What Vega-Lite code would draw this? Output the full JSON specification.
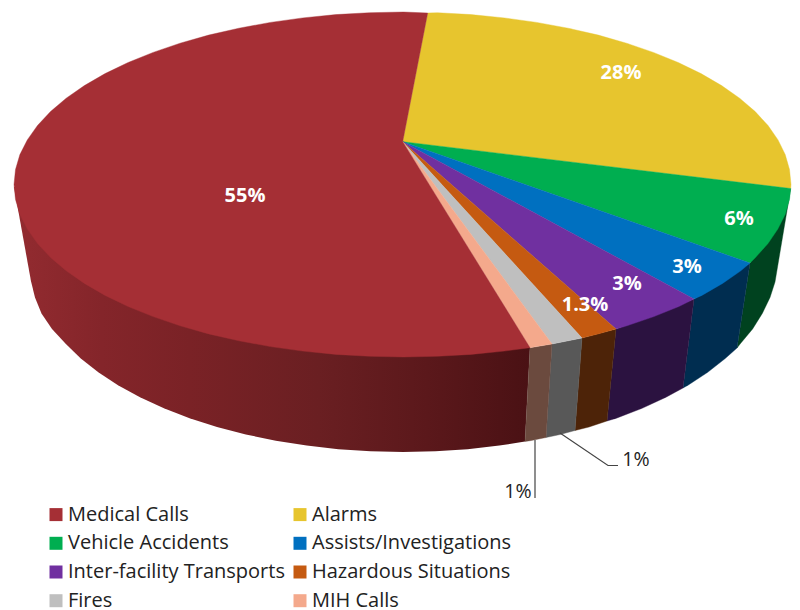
{"$schema":"https://vega.github.io/schema/vega-lite/v6.json","width":800,"height":610,"padding":0,"autosize":"none","background":"white","view":{"stroke":null},
"datasets":{
"top":[
{"s":"Alarms","i":0,"x":402.7,"y":141.7},{"s":"Alarms","i":1,"x":427.7,"y":13},{"s":"Alarms","i":2,"x":437.5,"y":12.7},{"s":"Alarms","i":3,"x":471.1,"y":14.6},{"s":"Alarms","i":4,"x":504.3,"y":17.9},{"s":"Alarms","i":5,"x":536.7,"y":22.4},{"s":"Alarms","i":6,"x":568.1,"y":28.2},{"s":"Alarms","i":7,"x":598.3,"y":35.1},{"s":"Alarms","i":8,"x":626.5,"y":43.2},{"s":"Alarms","i":9,"x":653.4,"y":52.4},{"s":"Alarms","i":10,"x":678.2,"y":62.5},{"s":"Alarms","i":11,"x":701,"y":73.6},{"s":"Alarms","i":12,"x":721.6,"y":85.6},{"s":"Alarms","i":13,"x":739.6,"y":98.2},{"s":"Alarms","i":14,"x":755.2,"y":111.6},{"s":"Alarms","i":15,"x":768,"y":125.5},{"s":"Alarms","i":16,"x":778,"y":139.9},{"s":"Alarms","i":17,"x":785.2,"y":154.6},{"s":"Alarms","i":18,"x":789.5,"y":169.5},{"s":"Alarms","i":19,"x":791,"y":184.5},{"s":"Alarms","i":20,"x":790.7,"y":188.5},{"s":"Alarms","i":21,"x":402.7,"y":141.7},
{"s":"Vehicle Accidents","i":0,"x":402.7,"y":141.7},{"s":"Vehicle Accidents","i":1,"x":790.7,"y":188.5},{"s":"Vehicle Accidents","i":2,"x":789.5,"y":199.5},{"s":"Vehicle Accidents","i":3,"x":785.2,"y":214.4},{"s":"Vehicle Accidents","i":4,"x":777.8,"y":229.1},{"s":"Vehicle Accidents","i":5,"x":768,"y":243.5},{"s":"Vehicle Accidents","i":6,"x":755.5,"y":257.4},{"s":"Vehicle Accidents","i":7,"x":750,"y":263},{"s":"Vehicle Accidents","i":8,"x":402.7,"y":141.7},
{"s":"Assists/Investigations","i":0,"x":402.7,"y":141.7},{"s":"Assists/Investigations","i":1,"x":750,"y":263},{"s":"Assists/Investigations","i":2,"x":740.8,"y":270.8},{"s":"Assists/Investigations","i":3,"x":722.6,"y":283.4},{"s":"Assists/Investigations","i":4,"x":701.9,"y":295.4},{"s":"Assists/Investigations","i":5,"x":694,"y":299},{"s":"Assists/Investigations","i":6,"x":402.7,"y":141.7},
{"s":"Inter-facility Transports","i":0,"x":402.7,"y":141.7},{"s":"Inter-facility Transports","i":1,"x":694,"y":299},{"s":"Inter-facility Transports","i":2,"x":678.9,"y":306.5},{"s":"Inter-facility Transports","i":3,"x":653.9,"y":316.6},{"s":"Inter-facility Transports","i":4,"x":626.9,"y":325.8},{"s":"Inter-facility Transports","i":5,"x":616,"y":329},{"s":"Inter-facility Transports","i":6,"x":402.7,"y":141.7},
{"s":"Hazardous Situations","i":0,"x":402.7,"y":141.7},{"s":"Hazardous Situations","i":1,"x":616,"y":329},{"s":"Hazardous Situations","i":2,"x":598.3,"y":333.9},{"s":"Hazardous Situations","i":3,"x":582,"y":338},{"s":"Hazardous Situations","i":4,"x":402.7,"y":141.7},
{"s":"Fires","i":0,"x":402.7,"y":141.7},{"s":"Fires","i":1,"x":582,"y":338},{"s":"Fires","i":2,"x":568.1,"y":340.8},{"s":"Fires","i":3,"x":552,"y":344},{"s":"Fires","i":4,"x":402.7,"y":141.7},
{"s":"MIH Calls","i":0,"x":402.7,"y":141.7},{"s":"MIH Calls","i":1,"x":552,"y":344},{"s":"MIH Calls","i":2,"x":536.7,"y":346.6},{"s":"MIH Calls","i":3,"x":530,"y":347.7},{"s":"MIH Calls","i":4,"x":402.7,"y":141.7},
{"s":"Medical Calls","i":0,"x":402.7,"y":141.7},{"s":"Medical Calls","i":1,"x":530,"y":347.7},{"s":"Medical Calls","i":2,"x":504.3,"y":351.1},{"s":"Medical Calls","i":3,"x":471.1,"y":354.4},{"s":"Medical Calls","i":4,"x":437.5,"y":356.3},{"s":"Medical Calls","i":5,"x":403.5,"y":357},{"s":"Medical Calls","i":6,"x":369.5,"y":356.3},{"s":"Medical Calls","i":7,"x":335.9,"y":354.4},{"s":"Medical Calls","i":8,"x":302.7,"y":351.1},{"s":"Medical Calls","i":9,"x":270.3,"y":346.6},{"s":"Medical Calls","i":10,"x":238.9,"y":340.8},{"s":"Medical Calls","i":11,"x":208.7,"y":333.9},{"s":"Medical Calls","i":12,"x":180.1,"y":325.8},{"s":"Medical Calls","i":13,"x":153.1,"y":316.6},{"s":"Medical Calls","i":14,"x":128.1,"y":306.5},{"s":"Medical Calls","i":15,"x":105.1,"y":295.4},{"s":"Medical Calls","i":16,"x":84.4,"y":283.4},{"s":"Medical Calls","i":17,"x":66.2,"y":270.8},{"s":"Medical Calls","i":18,"x":50.5,"y":257.4},{"s":"Medical Calls","i":19,"x":37.5,"y":243.5},{"s":"Medical Calls","i":20,"x":27.3,"y":229.1},{"s":"Medical Calls","i":21,"x":19.9,"y":214.4},{"s":"Medical Calls","i":22,"x":15.5,"y":199.5},{"s":"Medical Calls","i":23,"x":14,"y":184.5},{"s":"Medical Calls","i":24,"x":15.5,"y":169.5},{"s":"Medical Calls","i":25,"x":19.9,"y":154.6},{"s":"Medical Calls","i":26,"x":27.3,"y":139.9},{"s":"Medical Calls","i":27,"x":37.5,"y":125.5},{"s":"Medical Calls","i":28,"x":50.5,"y":111.6},{"s":"Medical Calls","i":29,"x":66.2,"y":98.2},{"s":"Medical Calls","i":30,"x":84.4,"y":85.6},{"s":"Medical Calls","i":31,"x":105.1,"y":73.6},{"s":"Medical Calls","i":32,"x":128.1,"y":62.5},{"s":"Medical Calls","i":33,"x":153.1,"y":52.4},{"s":"Medical Calls","i":34,"x":180.1,"y":43.2},{"s":"Medical Calls","i":35,"x":208.7,"y":35.1},{"s":"Medical Calls","i":36,"x":238.9,"y":28.2},{"s":"Medical Calls","i":37,"x":270.3,"y":22.4},{"s":"Medical Calls","i":38,"x":302.7,"y":17.9},{"s":"Medical Calls","i":39,"x":335.9,"y":14.6},{"s":"Medical Calls","i":40,"x":369.5,"y":12.7},{"s":"Medical Calls","i":41,"x":403.5,"y":12},{"s":"Medical Calls","i":42,"x":427.7,"y":13},{"s":"Medical Calls","i":43,"x":402.7,"y":141.7}
],
"wall":[
{"s":"Vehicle Accidents","i":0,"x":790.7,"y":188.5},{"s":"Vehicle Accidents","i":1,"x":775,"y":282},{"s":"Vehicle Accidents","i":2,"x":770,"y":297.5},{"s":"Vehicle Accidents","i":3,"x":762.3,"y":313.4},{"s":"Vehicle Accidents","i":4,"x":752.6,"y":329},{"s":"Vehicle Accidents","i":5,"x":740.1,"y":344},{"s":"Vehicle Accidents","i":6,"x":737,"y":348},{"s":"Vehicle Accidents","i":7,"x":750,"y":263},
{"s":"Assists/Investigations","i":0,"x":750,"y":263},{"s":"Assists/Investigations","i":1,"x":737,"y":348},{"s":"Assists/Investigations","i":2,"x":725.2,"y":358.5},{"s":"Assists/Investigations","i":3,"x":707.7,"y":372.3},{"s":"Assists/Investigations","i":4,"x":688,"y":385.2},{"s":"Assists/Investigations","i":5,"x":683,"y":388},{"s":"Assists/Investigations","i":6,"x":694,"y":299},
{"s":"Inter-facility Transports","i":0,"x":694,"y":299},{"s":"Inter-facility Transports","i":1,"x":683,"y":388},{"s":"Inter-facility Transports","i":2,"x":666,"y":397.2},{"s":"Inter-facility Transports","i":3,"x":642.1,"y":408.3},{"s":"Inter-facility Transports","i":4,"x":616.4,"y":418.2},{"s":"Inter-facility Transports","i":5,"x":607,"y":421},{"s":"Inter-facility Transports","i":6,"x":616,"y":329},
{"s":"Hazardous Situations","i":0,"x":616,"y":329},{"s":"Hazardous Situations","i":1,"x":607,"y":421},{"s":"Hazardous Situations","i":2,"x":589,"y":427},{"s":"Hazardous Situations","i":3,"x":575,"y":430.5},{"s":"Hazardous Situations","i":4,"x":582,"y":338},
{"s":"Fires","i":0,"x":582,"y":338},{"s":"Fires","i":1,"x":575,"y":430.5},{"s":"Fires","i":2,"x":560.2,"y":434.5},{"s":"Fires","i":3,"x":546,"y":437.5},{"s":"Fires","i":4,"x":552,"y":344},
{"s":"MIH Calls","i":0,"x":552,"y":344},{"s":"MIH Calls","i":1,"x":546,"y":437.5},{"s":"MIH Calls","i":2,"x":530.2,"y":440.7},{"s":"MIH Calls","i":3,"x":525,"y":441.5},{"s":"MIH Calls","i":4,"x":530,"y":347.7}
],
"redwall":[
{"i":0,"x":530,"y":347.7},{"i":1,"x":525,"y":441.5},{"i":2,"x":499.3,"y":445.6},{"i":3,"x":467.6,"y":449.2},{"i":4,"x":435.4,"y":451.3},{"i":5,"x":403,"y":452},{"i":6,"x":370.6,"y":451.3},{"i":7,"x":338.4,"y":449.2},{"i":8,"x":306.7,"y":445.6},{"i":9,"x":275.8,"y":440.7},{"i":10,"x":245.8,"y":434.5},{"i":11,"x":217,"y":427},{"i":12,"x":189.6,"y":418.2},{"i":13,"x":163.9,"y":408.3},{"i":14,"x":140,"y":397.2},{"i":15,"x":118,"y":385.2},{"i":16,"x":98.3,"y":372.3},{"i":17,"x":80.8,"y":358.5},{"i":18,"x":65.9,"y":344},{"i":19,"x":52,"y":329},{"i":20,"x":41.5,"y":313.4},{"i":21,"x":35,"y":297.5},{"i":22,"x":31,"y":281.3},{"i":23,"x":14,"y":187},{"i":24,"x":403,"y":185}
],
"inside":[{"t":"55%","x":245,"y":196},{"t":"28%","x":621,"y":73},{"t":"6%","x":739,"y":219},{"t":"3%","x":687,"y":267},{"t":"3%","x":627,"y":284},{"t":"1.3%","x":585,"y":305}],
"outside":[{"t":"1%","x":636,"y":460},{"t":"1%","x":518,"y":492}],
"lead":[{"g":"a","i":0,"x":560,"y":433},{"g":"a","i":1,"x":608,"y":465.5},{"g":"a","i":2,"x":618,"y":465.5},{"g":"b","i":0,"x":535,"y":440},{"g":"b","i":1,"x":535,"y":498}]
},
"encoding":{
"x":{"field":"x","type":"quantitative","scale":{"domain":[0,800]},"axis":null},
"y":{"field":"y","type":"quantitative","scale":{"domain":[610,0]},"axis":null}
},
"layer":[
{"data":{"name":"redwall"},"mark":{"type":"line","strokeWidth":0,"fill":{"gradient":"linear","x1":0,"y1":0,"x2":1,"y2":0,"stops":[{"offset":0,"color":"#932b30"},{"offset":0.17,"color":"#84252a"},{"offset":0.34,"color":"#7a2226"},{"offset":0.59,"color":"#6a1f22"},{"offset":0.8,"color":"#5b181b"},{"offset":1,"color":"#4a1114"}]}},"encoding":{"order":{"field":"i","type":"quantitative"}}},
{"data":{"name":"wall"},"mark":{"type":"line","strokeWidth":0.4},"encoding":{"order":{"field":"i","type":"quantitative"},
"fill":{"field":"s","type":"nominal","legend":null,"scale":{"domain":["Vehicle Accidents","Assists/Investigations","Inter-facility Transports","Hazardous Situations","Fires","MIH Calls"],"range":["#00421f","#002d50","#2b1240","#4d2308","#585858","#6b4a3e"]}},
"stroke":{"field":"s","type":"nominal","legend":null,"scale":{"domain":["Vehicle Accidents","Assists/Investigations","Inter-facility Transports","Hazardous Situations","Fires","MIH Calls"],"range":["#00421f","#002d50","#2b1240","#4d2308","#585858","#6b4a3e"]}}}},
{"data":{"name":"top"},"mark":{"type":"line","strokeWidth":0.4},"encoding":{"order":{"field":"i","type":"quantitative"},
"fill":{"field":"s","type":"nominal","scale":{"domain":["Medical Calls","Alarms","Vehicle Accidents","Assists/Investigations","Inter-facility Transports","Hazardous Situations","Fires","MIH Calls"],"range":["#a52f35","#e7c52e","#00ae50","#0070c0","#7030a0","#c55a11","#bfbfbf","#f4a98c"]},
"legend":{"title":null,"orient":"none","direction":"horizontal","legendX":46,"legendY":504.6,"columns":2,"symbolType":"square","symbolSize":169,"symbolStrokeWidth":0,"labelFont":"Open Sans","labelFontSize":20,"labelColor":"#222222","labelOffset":2,"labelLimit":400,"columnPadding":5,"rowPadding":8.7,"gridAlign":"each"}},
"stroke":{"field":"s","type":"nominal","legend":null,"scale":{"domain":["Medical Calls","Alarms","Vehicle Accidents","Assists/Investigations","Inter-facility Transports","Hazardous Situations","Fires","MIH Calls"],"range":["#a52f35","#e7c52e","#00ae50","#0070c0","#7030a0","#c55a11","#bfbfbf","#f4a98c"]}}}},
{"data":{"name":"lead"},"mark":{"type":"line","stroke":"#444444","strokeWidth":1.2},"encoding":{"detail":{"field":"g"},"order":{"field":"i","type":"quantitative"}}},
{"data":{"name":"inside"},"mark":{"type":"text","font":"Open Sans","fontWeight":"bold","fontSize":20,"color":"white","align":"center","baseline":"middle"},"encoding":{"text":{"field":"t"}}},
{"data":{"name":"outside"},"mark":{"type":"text","font":"Open Sans","fontSize":19.5,"color":"#222222","align":"center","baseline":"middle"},"encoding":{"text":{"field":"t"}}}
],
"resolve":{"scale":{"fill":"independent","stroke":"independent"}}
}
